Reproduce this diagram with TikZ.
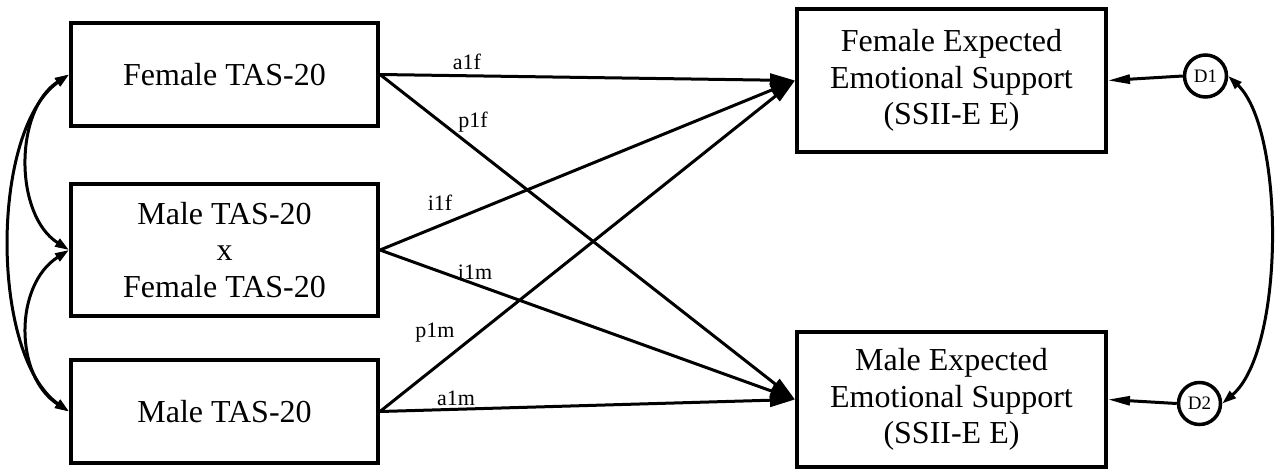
\documentclass[tikz,border=0pt]{standalone}
\usepackage{fontspec}
\setmainfont{Liberation Serif}
\usetikzlibrary{arrows.meta}
\begin{document}
\begin{tikzpicture}[x=1pt,y=-1pt,
  box/.style={draw,line width=4pt,inner sep=0pt,align=center,
    font=\fontsize{32}{36.5}\selectfont},
  disturb/.style={draw,circle,line width=3.5pt,inner sep=0pt,minimum size=42pt,
    font=\fontsize{19}{19}\selectfont},
  effect/.style={line width=3pt,-{Triangle[length=25pt,width=13pt]}},
  resid/.style={line width=3pt,-{Triangle[length=22pt,width=9pt]}},
  cov/.style={line width=3pt,{Triangle[length=14pt,width=9pt]}-{Triangle[length=14pt,width=9pt]}},
  lbl/.style={inner sep=0pt,font=\fontsize{22}{22}\selectfont}]
\useasboundingbox (0,0) rectangle (1276,469);

% predictors
\node[box,minimum width=307pt,minimum height=103pt] (ft) at (224.5,74.5) {Female TAS-20};
\node[box,minimum width=307pt,minimum height=132pt] (ix) at (224.5,250) {Male TAS-20\\x\\Female TAS-20};
\node[box,minimum width=307pt,minimum height=103pt] (mt) at (224.5,411.5) {Male TAS-20};

% outcomes
\node[box,minimum width=309pt,minimum height=143pt] (fe) at (951.5,80.5) {Female Expected\\Emotional Support\\(SSII-E E)};
\node[box,minimum width=309pt,minimum height=135pt] (me) at (951.5,399.5) {Male Expected\\Emotional Support\\(SSII-E E)};

% disturbances
\node[disturb] (d1) at (1205.5,76) {D1};
\node[disturb] (d2) at (1199.5,403.5) {D2};

% paths
\draw[effect] (ft.east) -- (fe.west);
\draw[effect] (ft.east) -- (me.west);
\draw[effect] (ix.east) -- (fe.west);
\draw[effect] (ix.east) -- (me.west);
\draw[effect] (mt.east) -- (fe.west);
\draw[effect] (mt.east) -- (me.west);

% path labels
\node[lbl] (la1f) at (467,62) {a1f};
\node[lbl] (lp1f) at (473,122) {p1f};
\node[lbl] (li1f) at (440,203) {i1f};
\node[lbl] (li1m) at (475,272) {i1m};
\node[lbl] (lp1m) at (435,333) {p1m};
\node[lbl] (la1m) at (456,398) {a1m};

% residual paths
\draw[resid] (d1.west) -- (fe.east);
\draw[resid] (d2.west) -- (me.east);

% covariances
\draw[cov] (ft.west) .. controls (14,110) and (14,215) .. (ix.west);
\draw[cov] (ix.west) .. controls (14,285) and (14,376) .. (mt.west);
\draw[cov] (ft.west) .. controls (-10,130) and (-10,356) .. (mt.west);
\draw[cov] (d1.east) .. controls (1285,130) and (1285,350) .. (d2.east);
\end{tikzpicture}
\end{document}
